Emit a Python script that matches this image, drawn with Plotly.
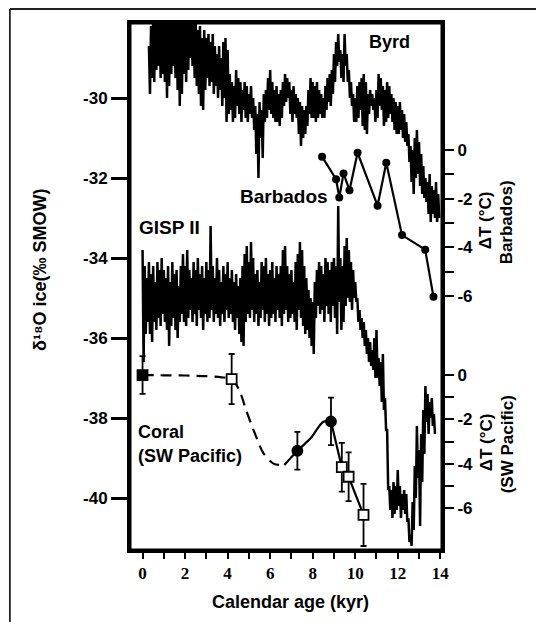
import plotly.graph_objects as go

# ---------------- data ----------------
# Byrd ice core, delta18O, sampled every 0.1 kyr from 0.3 to 13.9 kyr (upper / lower excursions)
byrd_start, byrd_step = 0.3, 0.1
byrd_hi = [
    -28.7, -28.2, -27.9, -27.8, -27.9, -27.8, -27.9, -27.8, -27.9, -27.8,
    -27.9, -27.8, -27.9, -27.8, -27.9, -27.8, -27.9, -27.8, -27.9, -27.8,
    -28.0, -27.9, -28.1, -28.3, -28.2, -28.5, -28.3, -28.5, -28.4, -28.6,
    -28.4, -28.7, -28.9, -28.7, -29.0, -28.6, -28.5, -28.8, -29.4, -29.6,
    -29.7, -29.3, -29.5, -29.6, -29.8, -29.6, -29.7, -29.9, -29.7, -30.0,
    -30.2, -30.4, -30.1, -30.3, -29.9, -29.8, -29.5, -29.3, -29.6, -29.8,
    -29.7, -29.9, -29.8, -29.6, -29.4, -29.5, -29.6, -29.8, -29.7, -29.9,
    -30.0, -30.1, -30.2, -30.3, -30.2, -29.8, -29.5, -29.6, -29.7, -29.6,
    -29.8, -29.9, -30.0, -29.7, -29.5, -29.4, -29.3, -28.9, -28.6, -28.4,
    -28.8, -28.9, -28.4, -28.9, -29.3, -29.6, -29.9, -30.0, -29.7, -29.6,
    -29.5, -29.4, -29.6, -29.9, -29.8, -29.9, -30.0, -29.8, -29.4, -29.5,
    -29.7, -29.8, -29.6, -29.7, -29.9, -30.0, -30.1, -30.2, -30.1, -30.3,
    -30.4, -30.6, -30.9, -31.2, -31.3, -31.0, -30.8, -31.1, -31.4, -31.7,
    -32.0, -32.1, -31.9, -32.2, -32.3, -32.1, -32.4,
]
byrd_lo = [
    -29.9, -29.5, -29.6, -29.3, -29.2, -29.5, -29.4, -29.6, -30.0, -29.7,
    -29.4, -29.2, -29.5, -29.8, -30.2, -29.9, -29.4, -29.6, -29.3, -29.0,
    -29.2, -29.5, -29.7, -29.9, -30.2, -30.3, -29.8, -29.5, -29.7, -29.6,
    -29.9, -29.7, -30.0, -29.8, -30.2, -30.0, -30.6, -30.4, -30.3, -30.6,
    -30.5, -30.2, -30.4, -30.6, -30.3, -30.5, -30.6, -30.4, -30.5, -30.8,
    -31.4, -32.0, -31.0, -31.5, -30.6, -30.5, -30.3, -30.4, -30.5, -30.6,
    -30.6, -30.7, -30.5, -30.2, -30.1, -30.0, -30.4, -30.6, -30.4, -30.5,
    -30.9, -31.2, -31.0, -30.9, -30.7, -30.4, -30.5, -30.5, -30.6, -30.5,
    -30.4, -30.5, -30.5, -30.3, -30.1, -30.2, -29.9, -29.6, -29.2, -29.1,
    -29.5, -29.6, -29.2, -29.6, -30.0, -30.2, -30.6, -30.6, -30.5, -30.3,
    -30.7, -30.8, -30.9, -30.4, -30.2, -30.3, -30.6, -30.5, -30.2, -30.3,
    -30.7, -30.6, -30.5, -30.4, -30.6, -30.8, -30.9, -30.9, -30.8, -31.0,
    -31.1, -31.2, -31.6, -32.1, -32.4, -32.0, -31.9, -32.2, -32.4, -32.5,
    -32.6, -32.9, -33.1, -32.9, -33.0, -33.1, -33.0,
]

# GISP II ice core, delta18O, every 0.1 kyr from 0.0 to 13.7 kyr
gisp_start, gisp_step = 0.0, 0.1
gisp_hi = [
    -33.8, -34.2, -34.5, -34.1, -34.4, -34.2, -34.6, -34.1, -34.3, -34.0,
    -34.3, -34.5, -34.2, -34.6, -34.1, -34.4, -34.3, -34.7, -34.2, -33.9,
    -34.2, -33.8, -34.3, -34.5, -34.1, -34.3, -34.0, -34.4, -34.2, -34.5,
    -34.1, -34.3, -33.2, -34.2, -34.5, -34.0, -34.3, -34.6, -34.2, -34.4,
    -34.1, -34.5, -34.3, -34.6, -34.4, -34.7, -34.5, -34.2, -33.9, -33.7,
    -34.1, -33.6, -34.0, -34.4, -34.3, -34.6, -34.1, -34.2, -34.0, -34.4,
    -34.3, -34.1, -34.5, -34.2, -34.4, -34.2, -33.8, -33.7, -34.2, -34.4,
    -34.3, -34.6, -34.1, -33.9, -33.6, -33.8, -34.2, -34.5, -34.8, -35.0,
    -35.1, -34.6, -34.3, -34.1, -34.2, -34.4, -34.0, -34.1, -34.3, -34.1,
    -34.0, -34.2, -32.7, -34.0, -34.2, -33.7, -33.5, -33.8, -34.1, -34.3,
    -34.6, -35.0, -35.3, -35.5, -35.6, -35.8, -36.0, -36.1, -36.3, -36.0,
    -35.8, -36.5, -36.6, -36.4, -37.5, -38.3, -39.7, -39.8, -39.6, -39.7,
    -39.3, -39.7, -39.9, -39.8, -39.9, -40.5, -40.9, -40.1, -39.2, -38.2,
    -38.8, -38.4, -37.8, -37.2, -37.4, -37.6, -37.5, -37.9,
]
gisp_lo = [
    -36.6, -35.9, -35.6, -35.9, -36.1, -35.6, -35.8, -35.5, -35.7, -35.4,
    -35.6, -35.8, -36.2, -35.7, -35.5, -35.8, -36.0, -35.6, -35.4, -35.6,
    -35.7, -35.5, -35.3, -35.6, -35.4, -35.7, -35.3, -35.5, -35.8, -35.4,
    -35.6, -35.5, -35.3, -35.6, -35.4, -35.5, -35.7, -35.4, -35.6, -35.3,
    -35.5, -35.4, -35.6, -35.8, -35.5, -35.9, -36.1, -36.2, -35.6, -35.4,
    -35.5, -35.3, -35.6, -35.4, -35.7, -35.5, -35.3, -35.6, -35.4, -35.7,
    -35.5, -35.4, -35.6, -35.3, -35.5, -35.7, -35.4, -35.3, -35.6, -35.5,
    -35.4, -35.6, -35.8, -35.3, -35.5, -35.7, -35.9, -35.8, -36.0, -36.2,
    -36.4, -35.5, -35.2, -35.4, -35.3, -35.6, -35.2, -35.4, -35.6, -35.2,
    -35.5, -35.9, -35.1, -35.8, -35.6, -35.2, -35.0, -35.1, -35.3, -35.0,
    -35.1, -35.6, -35.8, -36.0, -36.2, -36.4, -36.6, -36.7, -36.8, -37.0,
    -37.0, -37.2, -37.6, -37.8, -38.3, -39.8, -40.3, -40.5, -40.4, -40.3,
    -40.2, -40.5, -40.3, -40.4, -40.6, -41.1, -41.2, -40.8, -40.0, -39.5,
    -40.7, -39.6, -38.9, -38.1, -38.4, -38.0, -38.2, -38.4,
]

# Barbados temperature change (right axis, upper)
barb_age = [8.44, 9.1, 9.25, 9.45, 9.73, 10.11, 11.05, 11.46, 12.2, 13.29, 13.68]
barb_dT = [-0.27, -1.2, -1.95, -0.96, -1.65, -0.11, -2.29, -0.52, -3.5, -4.1, -6.04]

# Coral (SW Pacific) temperature change (right axis, lower)
coral_dash_age = [0.0, 1.0, 2.0, 3.0, 3.7, 4.19, 4.55, 4.87, 5.28, 5.69, 6.18, 6.67]
coral_dash_dT = [0.0, -0.01, -0.02, -0.05, -0.1, -0.18, -0.68, -1.58, -2.63, -3.53, -4.0, -4.05]
coral_curve_age = [6.67, 7.28, 7.9, 8.5, 8.86]
coral_curve_dT = [-4.05, -3.41, -2.85, -2.1, -2.09]
coral_line_age = [8.86, 9.37, 9.69, 10.39]
coral_line_dT = [-2.09, -4.15, -4.58, -6.3]
coral_pt_age = [0.0, 4.19, 7.28, 8.86, 9.37, 9.69, 10.39]
coral_pt_dT = [0.0, -0.18, -3.41, -2.09, -4.15, -4.58, -6.3]
coral_pt_err = [0.85, 1.13, 0.85, 1.07, 1.1, 1.1, 1.4]
coral_pt_filled = [True, False, True, True, False, False, False]
coral_pt_shape = ["square", "square", "circle", "circle", "square", "square", "square"]

age_ticks = [0, 2, 4, 6, 8, 10, 12, 14]
age_minor = [1, 3, 5, 7, 9, 11, 13]
d18o_ticks = [-40, -38, -36, -34, -32, -30]
dT_ticks = [0, -2, -4, -6]
dT_minor = [-1, -3, -5]


def zigzag(start, step, hi, lo):
    xs, ys = [], []
    for i, (h, l) in enumerate(zip(hi, lo)):
        a = start + i * step
        xs += [a, a + step / 2]
        ys += [h, l]
    return xs, ys


# ---------------- figure ----------------
# the page body adds an 8 px margin, so the figure is 8 px smaller and shifted
OFF = 8
W, H = 544 - OFF, 622 - OFF
PL, PR, PT, PB = 130, 441.7, 23, 550          # plot box in page pixels
L, T = PL - OFF, PT - OFF
R, B = W - (PR - OFF), H - (PB - OFF)
pw, ph = W - L - R, H - T - B


def px(x):
    return (x - OFF - L) / pw


def py(y):
    return (H - B - (y - OFF)) / ph


fig = go.Figure()

bx, by = zigzag(byrd_start, byrd_step, byrd_hi, byrd_lo)
gx, gy = zigzag(gisp_start, gisp_step, gisp_hi, gisp_lo)
fig.add_trace(go.Scatter(x=bx, y=by, mode="lines", line=dict(color="black", width=2.5),
                         yaxis="y", showlegend=False, hoverinfo="skip"))
fig.add_trace(go.Scatter(x=gx, y=gy, mode="lines", line=dict(color="black", width=2.5),
                         yaxis="y", showlegend=False, hoverinfo="skip"))

fig.add_trace(go.Scatter(x=barb_age, y=barb_dT, mode="lines+markers", yaxis="y2",
                         line=dict(color="black", width=2.2),
                         marker=dict(color="black", size=8, symbol="circle"),
                         showlegend=False))

fig.add_trace(go.Scatter(x=coral_dash_age, y=coral_dash_dT, mode="lines", yaxis="y3",
                         line=dict(color="black", width=2.2, dash="11px,7px", shape="spline",
                                   smoothing=0.8),
                         showlegend=False))
fig.add_trace(go.Scatter(x=coral_curve_age, y=coral_curve_dT, mode="lines", yaxis="y3",
                         line=dict(color="black", width=2.2, shape="spline", smoothing=0.8),
                         showlegend=False))
fig.add_trace(go.Scatter(x=coral_line_age, y=coral_line_dT, mode="lines", yaxis="y3",
                         line=dict(color="black", width=2.2), showlegend=False))
fig.add_trace(go.Scatter(
    x=coral_pt_age, y=coral_pt_dT, mode="markers", yaxis="y3",
    marker=dict(symbol=coral_pt_shape,
                color=["black" if f else "white" for f in coral_pt_filled],
                size=10, line=dict(color="black", width=1.8)),
    error_y=dict(type="data", array=coral_pt_err, color="black", thickness=1.8, width=3),
    showlegend=False))

SANS = "Liberation Sans, Arial, sans-serif"
SERIF = "Liberation Serif, Times New Roman, serif"
bold_sans = dict(family=SANS, size=17, color="black", weight=700)
bold_serif = dict(family=SERIF, size=17, color="black", weight=700)

fig.update_layout(
    width=W, height=H,
    margin=dict(l=L, r=R, t=T, b=B, autoexpand=False),
    paper_bgcolor="white", plot_bgcolor="white",
    xaxis=dict(range=[-0.59, 14.08], tickvals=age_ticks, ticktext=[str(v) for v in age_ticks],
               ticks="outside", ticklen=6, tickwidth=2, tickcolor="black",
               minor=dict(tickvals=age_minor, ticks="outside", ticklen=6,
                          tickwidth=2, tickcolor="black"),
               showline=True, linewidth=3, linecolor="black", mirror=True,
               showgrid=False, zeroline=False, tickfont=bold_serif),
    yaxis=dict(range=[-41.3, -28.125], tickvals=d18o_ticks,
               ticktext=[str(v) for v in d18o_ticks],
               ticks="outside", ticklen=16, tickwidth=2.5, tickcolor="black",
               showline=True, linewidth=3, linecolor="black", mirror=True,
               showgrid=False, zeroline=False, tickfont=bold_sans),
    yaxis2=dict(range=[-16.46, 5.23], overlaying="y", side="right", anchor="x",
                tickvals=dT_ticks, ticktext=[str(v) for v in dT_ticks],
                ticks="outside", ticklen=11, tickwidth=2, tickcolor="black",
                minor=dict(tickvals=dT_minor, ticks="outside", ticklen=11, tickwidth=2,
                           tickcolor="black"),
                showline=False, showgrid=False, zeroline=False, tickfont=bold_sans),
    yaxis3=dict(range=[-7.88, 15.86], overlaying="y", side="right", anchor="x",
                tickvals=dT_ticks, ticktext=[str(v) for v in dT_ticks],
                ticks="outside", ticklen=11, tickwidth=2, tickcolor="black",
                minor=dict(tickvals=dT_minor, ticks="outside", ticklen=11, tickwidth=2,
                           tickcolor="black"),
                showline=False, showgrid=False, zeroline=False, tickfont=bold_sans),
)

lab = dict(family=SANS, size=18, color="black", weight=700)
ann = [
    dict(text="Byrd", x=px(389), y=py(42), font=lab),
    dict(text="Barbados", x=px(284), y=py(196), font=dict(lab, size=19)),
    dict(text="GISP II", x=px(169), y=py(227), font=dict(lab, size=19)),
    dict(text="Coral", x=px(136), y=py(432), font=lab, xanchor="left"),
    dict(text="(SW Pacific)", x=px(136), y=py(456), font=lab, xanchor="left"),
    dict(text="Calendar age (kyr)", x=px(290), y=py(602), font=lab),
    dict(text="δ¹⁸O ice(‰ SMOW)", x=px(40), y=py(270), font=lab, textangle=-90),
    dict(text="ΔT (°C)", x=px(486), y=py(220), font=dict(lab, size=17), textangle=-90),
    dict(text="Barbados)", x=px(507), y=py(222), font=dict(lab, size=17), textangle=-90),
    dict(text="ΔT (°C)", x=px(486), y=py(442), font=dict(lab, size=17), textangle=-90),
    dict(text="(SW Pacific)", x=px(507), y=py(444), font=dict(lab, size=17), textangle=-90),
]
for a in ann:
    a.setdefault("xanchor", "center")
    fig.add_annotation(xref="paper", yref="paper", showarrow=False, yanchor="middle", **a)

# plot frame (also drawn as a shape so it is always visible)
fig.add_shape(type="rect", xref="paper", yref="paper", x0=0, x1=1, y0=0, y1=1,
              line=dict(color="black", width=3), layer="above")
# outer frame of the scanned page (left and top edges)
fig.add_shape(type="line", xref="paper", yref="paper", x0=px(10), x1=px(10), y0=py(622),
              y1=py(OFF + 1), line=dict(color="#222", width=1.8), layer="above")
fig.add_shape(type="line", xref="paper", yref="paper", x0=px(10), x1=px(544), y0=py(OFF + 1),
              y1=py(OFF + 1), line=dict(color="#222", width=1.8), layer="above")

fig.write_html("out.html")
